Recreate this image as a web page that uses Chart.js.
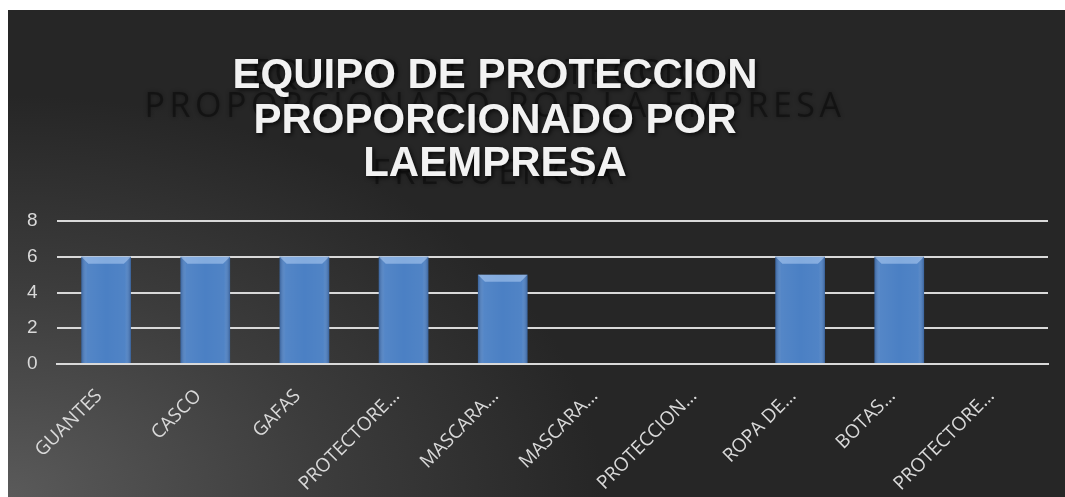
<!DOCTYPE html>
<html>
<head>
<meta charset="utf-8">
<script src="https://cdn.jsdelivr.net/npm/chart.js@4.4.1/dist/chart.umd.min.js"></script>
<style>
  html, body { margin: 0; padding: 0; background: #fff; }
  #caja {
    position: absolute; left: 8px; top: 10px; width: 1057px; height: 487px;
    background: radial-gradient(ellipse 75% 110% at 0% 100%, #5a5a5a 0%, #3c3c3c 40%, #262626 75%);
  }
</style>
</head>
<body>
<div id="caja"><canvas id="graficoEquipo"></canvas></div>
<script>
// datos
const categorias = ['GUANTES', 'CASCO', 'GAFAS', 'PROTECTORE…', 'MASCARA…', 'MASCARA…', 'PROTECCION…', 'ROPA DE…', 'BOTAS…', 'PROTECTORE…'];
const valores = [6, 6, 6, 6, 5, 0, 0, 6, 6, 0];
const ticksY = [0, 2, 4, 6, 8];
const titulo = ['EQUIPO DE PROTECCION', 'PROPORCIONADO POR', 'LAEMPRESA'];
const tituloSombra = ['EQUIPO DE PROTECCION', 'PROPORCIONADO POR LA EMPRESA', 'FRECUENCIA'];

// titulo con sombra por detras
const pluginTitulo = {
    id: 'pluginTitulo',
    beforeDatasetsDraw(chart) {
        const ctx = chart.ctx;
        const cx = 487;
        ctx.save();
        ctx.textAlign = 'center';
        ctx.textBaseline = 'middle';
        // texto fantasma
        ctx.font = '34px "Open Sans"';
        ctx.letterSpacing = '4.5px';
        ctx.fillStyle = 'rgba(10,10,10,0.55)';
        ctx.shadowColor = 'rgba(0,0,0,0.6)';
        ctx.shadowBlur = 4;
        ctx.fillText(tituloSombra[0], cx, 64);
        ctx.fillText(tituloSombra[1], cx, 97);
        ctx.fillText(tituloSombra[2], cx, 164);
        // titulo principal
        ctx.letterSpacing = '0px';
        ctx.font = 'bold 42px "Liberation Sans", Arial';
        ctx.fillStyle = '#f2f2f2';
        ctx.shadowColor = 'rgba(0,0,0,0.7)';
        ctx.shadowBlur = 4;
        ctx.shadowOffsetX = 2;
        ctx.shadowOffsetY = 2;
        ctx.fillText(titulo[0], cx, 66);
        ctx.fillText(titulo[1], cx, 111);
        ctx.fillText(titulo[2], cx, 154);
        ctx.restore();
    }
};

// brillo de las barras
const pluginBisel = {
    id: 'pluginBisel',
    afterDatasetsDraw(chart) {
        const ctx = chart.ctx;
        chart.getDatasetMeta(0).data.forEach(function(bar) {
            const p = bar.getProps(['x', 'y', 'base', 'width'], true);
            if (p.base - p.y < 1) return;
            const l = p.x - p.width / 2, r = p.x + p.width / 2;
            ctx.save();
            const g = ctx.createLinearGradient(l, 0, r, 0);
            g.addColorStop(0, 'rgba(20,40,80,0.35)');
            g.addColorStop(0.12, 'rgba(255,255,255,0.05)');
            g.addColorStop(0.5, 'rgba(255,255,255,0.0)');
            g.addColorStop(0.88, 'rgba(255,255,255,0.03)');
            g.addColorStop(1, 'rgba(20,40,80,0.35)');
            ctx.fillStyle = g;
            ctx.fillRect(l, p.y, p.width, p.base - p.y);
            // bisel superior
            ctx.beginPath();
            ctx.moveTo(l, p.y);
            ctx.lineTo(r, p.y);
            ctx.lineTo(r - 7, p.y + 7);
            ctx.lineTo(l + 7, p.y + 7);
            ctx.closePath();
            ctx.fillStyle = 'rgba(200,225,255,0.45)';
            ctx.fill();
            ctx.restore();
        });
    }
};

const ctx = document.getElementById('graficoEquipo').getContext('2d');
new Chart(ctx, {
    type: 'bar',
    data: {
        labels: categorias,
        datasets: [{
            label: 'Equipo',
            data: valores,
            backgroundColor: '#4b80c4',
            borderWidth: 0,
            categoryPercentage: 1,
            barPercentage: 0.5
        }]
    },
    options: {
        responsive: true,
        maintainAspectRatio: false,
        animation: false,
        layout: {
            padding: { top: 211, left: 0, right: 17, bottom: -10 }
        },
        plugins: {
            legend: { display: false },
            title: { display: false },
            tooltip: { enabled: false }
        },
        scales: {
            x: {
                grid: { display: false },
                border: { color: '#d9d9d9', width: 2 },
                afterFit: function(axis) {
                    axis.paddingLeft = 0;
                    axis.paddingRight = 0;
                },
                ticks: {
                    color: '#d9d9d9',
                    autoSkip: false,
                    maxRotation: 45,
                    minRotation: 45,
                    padding: 13,
                    labelOffset: -7,
                    font: { family: '"Open Sans"', size: 19 }
                }
            },
            y: {
                min: 0,
                max: 8,
                afterBuildTicks: function(axis) {
                    axis.ticks = ticksY.map(v => ({ value: v }));
                },
                border: { display: false },
                grid: { color: '#d9d9d9', lineWidth: 2, drawTicks: false },
                ticks: {
                    color: '#d9d9d9',
                    padding: 19,
                    font: { family: '"Liberation Sans", Arial', size: 19 }
                }
            }
        }
    },
    plugins: [pluginTitulo, pluginBisel]
});
</script>
</body>
</html>
